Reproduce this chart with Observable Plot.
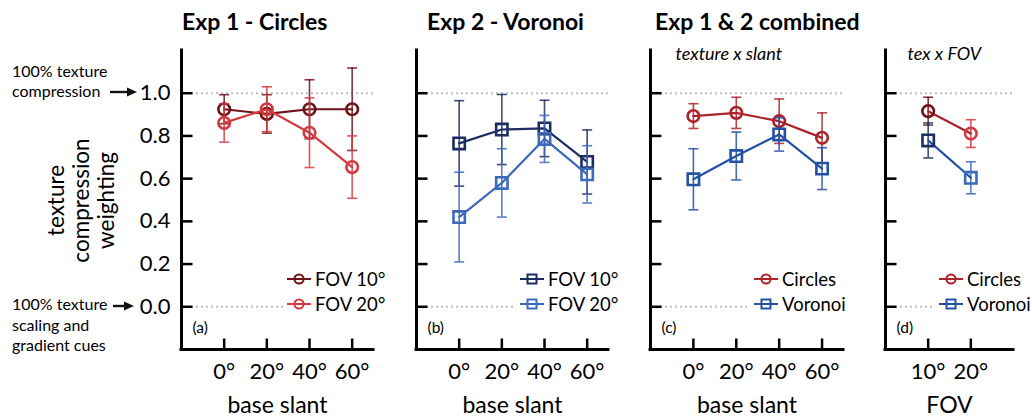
<!DOCTYPE html>
<html><head><meta charset="utf-8">
<script src="https://cdn.jsdelivr.net/npm/d3@7"></script>
<script src="https://cdn.jsdelivr.net/npm/@observablehq/plot@0.6"></script>
<style>
html,body{margin:0;padding:0;background:#fff;font-family:Lato,"Open Sans",sans-serif;color:#000;overflow:hidden;}
#wrap{position:relative;width:1032px;height:420px;overflow:hidden;background:#fff;}
.abs{position:absolute;white-space:nowrap;}
.abs svg{display:block;}
.title{font-weight:bold;font-size:23px;line-height:30px;}
.ann{font-size:16px;line-height:20px;}
.ytitle{font-size:22.5px;line-height:25px;text-align:center;transform:rotate(-90deg);}
.legend{background:#fff;padding-left:4px;padding-right:2px;font-size:18.5px;}
.legend .row{display:flex;align-items:center;height:25px;}
.legend span{margin-left:4px;line-height:25px;}
</style></head><body><div id="wrap"></div>
<script>
// ---------- data ----------
const slants = [0, 20, 40, 60];
const fovs = [10, 20];
const yTicks = [0, 0.2, 0.4, 0.6, 0.8, 1.0];

const exp1Fov10Mean = [0.925, 0.903, 0.925, 0.925];
const exp1Fov10Err  = [0.068, 0.090, 0.138, 0.193];
const exp1Fov20Mean = [0.861, 0.925, 0.815, 0.654];
const exp1Fov20Err  = [0.090, 0.105, 0.163, 0.146];

const exp2Fov10Mean = [0.765, 0.830, 0.835, 0.678];
const exp2Fov10Err  = [0.200, 0.164, 0.132, 0.150];
const exp2Fov20Mean = [0.420, 0.580, 0.786, 0.620];
const exp2Fov20Err  = [0.210, 0.160, 0.110, 0.134];

const combCirclesMean = [0.893, 0.908, 0.869, 0.791];
const combCirclesErr  = [0.058, 0.073, 0.104, 0.117];
const combVoronoiMean = [0.597, 0.706, 0.807, 0.647];
const combVoronoiErr  = [0.143, 0.112, 0.078, 0.098];

const fovCirclesMean = [0.916, 0.811];
const fovCirclesErr  = [0.065, 0.065];
const fovVoronoiMean = [0.779, 0.604];
const fovVoronoiErr  = [0.082, 0.075];

const titles = ["Exp 1 - Circles", "Exp 2 - Voronoi", "Exp 1 & 2 combined"];
const subtitles = ["texture x slant", "tex x FOV"];
const panelLabels = ["(a)", "(b)", "(c)", "(d)"];

// ---------- colours ----------
const cFov10Red = "#6d1217", cFov20Red = "#d33a3f";
const cFov10Blue = "#1d2d62", cFov20Blue = "#3d69bb";
const cCircles = "#ad2329", cVoronoi = "#2351a3";

// ---------- helpers ----------
const tickUp = {draw(ctx){ ctx.moveTo(0, 0); ctx.lineTo(0, -11); }};
const tickRight = {draw(ctx){ ctx.moveTo(0, 0); ctx.lineTo(11, 0); }};
const capSym = {draw(ctx){ ctx.moveTo(-5, 0); ctx.lineTo(5, 0); }};
const FONT = "Lato, 'Open Sans', sans-serif";

function rowsOf(xs, means, errs, colors) {
  return xs.map((x, i) => ({x, m: means[i], lo: means[i] - errs[i], hi: means[i] + errs[i], c: colors[i]}));
}

function seriesMarks(s) {
  const rows = rowsOf(s.xs, s.means, s.errs, s.colors);
  const isSq = s.symbol === "square";
  return [
    Plot.ruleX(rows, {x: "x", y1: "lo", y2: "hi", stroke: "c", strokeWidth: 1.6, strokeOpacity: 0.85}),
    Plot.dot(rows, {x: "x", y: "hi", symbol: capSym, stroke: "c", fill: "none", strokeWidth: 1.6, strokeOpacity: 0.85}),
    Plot.dot(rows, {x: "x", y: "lo", symbol: capSym, stroke: "c", fill: "none", strokeWidth: 1.6, strokeOpacity: 0.85}),
    Plot.line(rows, {x: "x", y: "m", stroke: s.line, strokeWidth: 2.2}),
    Plot.dot(rows, {x: "x", y: "m", symbol: s.symbol, r: isSq ? 6.4 : 5.8, stroke: "c", fill: "none", strokeWidth: 2.6})
  ];
}

function panel(cfg) {
  const xMin = cfg.xDomain[0];
  const marks = [
    Plot.ruleY([0, 1], {stroke: "#bdbdbd", strokeWidth: 2, strokeDasharray: "2,3"}),
    ...cfg.series.flatMap(seriesMarks),
    Plot.ruleX([xMin], {stroke: "#000", strokeWidth: 3, strokeLinecap: "square"}),
    Plot.ruleY([-0.2], {stroke: "#000", strokeWidth: 3, strokeLinecap: "square"}),
    Plot.dot(cfg.xTicks, {x: d => d, frameAnchor: "bottom", symbol: tickUp, stroke: "#000", fill: "none", strokeWidth: 2.5}),
    Plot.dot(yTicks, {y: d => d, frameAnchor: "left", symbol: tickRight, stroke: "#000", fill: "none", strokeWidth: 2.5}),
    Plot.text(cfg.xTicks, {x: d => d, text: d => d + "°", frameAnchor: "bottom", lineAnchor: "middle", dy: 22, fontSize: 22, fill: "#000"}),
    Plot.text([cfg.xLabel], {frameAnchor: "bottom", lineAnchor: "middle", dy: 56, fontSize: 23, fill: "#000"}),
    Plot.text([cfg.panelLabel], {frameAnchor: "bottom-left", lineAnchor: "middle", dx: 11, dy: -21, textAnchor: "start", fontSize: 15.5, fill: "#000"})
  ];
  if (cfg.subtitle) marks.push(Plot.text([cfg.subtitle], {frameAnchor: "top-left", lineAnchor: "middle", dx: cfg.subDx, dy: 4, textAnchor: "start", fontStyle: "italic", fontSize: 18, fill: "#000"}));
  if (cfg.yLabels) marks.push(Plot.text(yTicks, {y: d => d, text: d3.format(".1f"), frameAnchor: "left", textAnchor: "end", lineAnchor: "middle", dx: -11, fontSize: 22, fill: "#000"}));
  const ml = cfg.marginLeft;
  const svg = Plot.plot({
    width: ml + cfg.frameW + 12,
    height: 420,
    marginTop: 50, marginBottom: 71, marginLeft: ml, marginRight: 12,
    style: {fontFamily: FONT, fontSize: "22px", overflow: "visible", background: "transparent", color: "#000"},
    x: {domain: cfg.xDomain, axis: null},
    y: {domain: [-0.2, 1.2], axis: null},
    color: {type: "identity"},
    marks
  });
  svg.style.position = "absolute";
  svg.style.left = (cfg.frameLeft - ml) + "px";
  svg.style.top = "0px";
  return svg;
}

function legend(left, items) {
  const d = document.createElement("div");
  d.className = "abs legend";
  d.style.left = (left - 4) + "px";
  d.style.top = "266.5px";
  for (const it of items) {
    const r = document.createElement("div");
    r.className = "row";
    const shape = it.symbol === "square"
      ? `<rect x="7.5" y="2.5" width="9" height="9" fill="none" stroke="${it.color}" stroke-width="2"/>`
      : `<circle cx="12" cy="7" r="4.6" fill="none" stroke="${it.color}" stroke-width="2"/>`;
    r.innerHTML = `<svg width="24" height="14"><line x1="0" x2="24" y1="7" y2="7" stroke="${it.color}" stroke-width="2"/>${shape}</svg><span>${it.label}</span>`;
    d.appendChild(r);
  }
  return d;
}

function arrow(left, cy, len) {
  const d = document.createElement("div");
  d.className = "abs";
  d.style.left = left + "px"; d.style.top = (cy - 5) + "px";
  d.innerHTML = `<svg width="${len}" height="10"><line x1="0" x2="${len - 8}" y1="5" y2="5" stroke="#111" stroke-width="2.4"/><polygon points="${len - 10},0.5 ${len},5 ${len - 10},9.5" fill="#111"/></svg>`;
  return d;
}

function html(cls, left, top, text, extra) {
  const d = document.createElement("div");
  d.className = "abs " + cls;
  d.style.left = left + "px"; d.style.top = top + "px";
  d.innerHTML = text;
  if (extra) Object.assign(d.style, extra);
  return d;
}

// ---------- build ----------
const wrap = document.getElementById("wrap");

wrap.appendChild(panel({
  frameLeft: 181, frameW: 192, marginLeft: 60, xDomain: [-20, 70], xTicks: slants, xLabel: "base slant",
  panelLabel: panelLabels[0], yLabels: true,
  series: [
    {xs: slants, means: exp1Fov10Mean, errs: exp1Fov10Err, colors: slants.map(() => cFov10Red), line: cFov10Red, symbol: "circle"},
    {xs: slants, means: exp1Fov20Mean, errs: exp1Fov20Err, colors: slants.map(() => cFov20Red), line: cFov20Red, symbol: "circle"}
  ]
}));
wrap.appendChild(panel({
  frameLeft: 416, frameW: 192, marginLeft: 12, xDomain: [-20, 70], xTicks: slants, xLabel: "base slant",
  panelLabel: panelLabels[1],
  series: [
    {xs: slants, means: exp2Fov10Mean, errs: exp2Fov10Err, colors: slants.map(() => cFov10Blue), line: cFov10Blue, symbol: "square"},
    {xs: slants, means: exp2Fov20Mean, errs: exp2Fov20Err, colors: slants.map(() => cFov20Blue), line: cFov20Blue, symbol: "square"}
  ]
}));
wrap.appendChild(panel({
  frameLeft: 650, frameW: 193, marginLeft: 12, xDomain: [-20, 70], xTicks: slants, xLabel: "base slant",
  panelLabel: panelLabels[2], subtitle: subtitles[0], subDx: 25,
  series: [
    {xs: slants, means: combCirclesMean, errs: combCirclesErr, colors: slants.map(() => cCircles), line: cCircles, symbol: "circle"},
    {xs: slants, means: combVoronoiMean, errs: combVoronoiErr, colors: slants.map(() => cVoronoi), line: cVoronoi, symbol: "square"}
  ]
}));
wrap.appendChild(panel({
  frameLeft: 885, frameW: 128, marginLeft: 12, xDomain: [0, 30], xTicks: fovs, xLabel: "FOV",
  panelLabel: panelLabels[3], subtitle: subtitles[1], subDx: 22,
  series: [
    {xs: fovs, means: fovCirclesMean, errs: fovCirclesErr, colors: [cFov10Red, cFov20Red], line: cCircles, symbol: "circle"},
    {xs: fovs, means: fovVoronoiMean, errs: fovVoronoiErr, colors: [cFov10Blue, cFov20Blue], line: cVoronoi, symbol: "square"}
  ]
}));

// titles
wrap.appendChild(html("title", 182, 6, titles[0]));
wrap.appendChild(html("title", 427, 6, titles[1]));
wrap.appendChild(html("title", 655, 6, titles[2]));

// y title
wrap.appendChild(html("ytitle", 80 - 110, 200 - 37.5, "texture<br>compression<br>weighting", {width: "220px", height: "75px"}));

// left annotations
wrap.appendChild(html("ann", 12, 61, "100% texture<br>compression"));
wrap.appendChild(arrow(110, 92, 27));
wrap.appendChild(html("ann", 12, 294, "100% texture<br>scaling and<br>gradient cues", {lineHeight: "20.5px"}));
wrap.appendChild(arrow(113, 306, 21));

// legends
wrap.appendChild(legend(287, [{label: "FOV 10°", color: cFov10Red, symbol: "circle"}, {label: "FOV 20°", color: cFov20Red, symbol: "circle"}]));
wrap.appendChild(legend(520, [{label: "FOV 10°", color: cFov10Blue, symbol: "square"}, {label: "FOV 20°", color: cFov20Blue, symbol: "square"}]));
wrap.appendChild(legend(754, [{label: "Circles", color: cCircles, symbol: "circle"}, {label: "Voronoi", color: cVoronoi, symbol: "square"}]));
wrap.appendChild(legend(939, [{label: "Circles", color: cCircles, symbol: "circle"}, {label: "Voronoi", color: cVoronoi, symbol: "square"}]));
</script></body></html>
